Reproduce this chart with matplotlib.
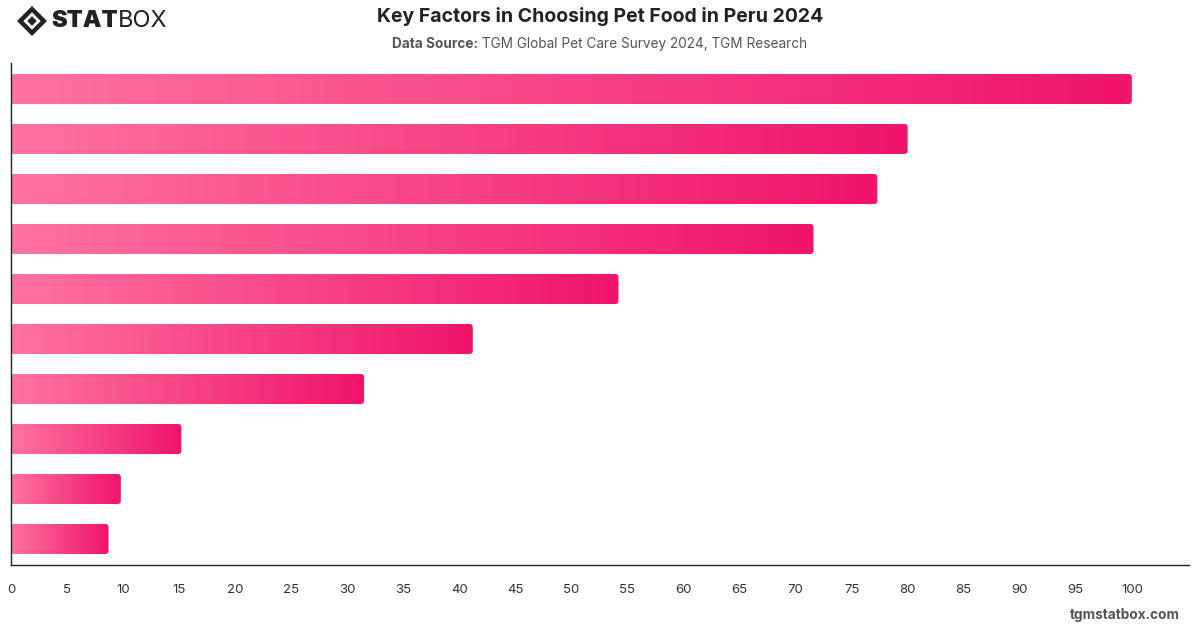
import matplotlib
matplotlib.use("Agg")
import matplotlib.pyplot as plt
import numpy as np
from matplotlib.colors import LinearSegmentedColormap
from matplotlib.patches import FancyBboxPatch, Polygon

plt.rcParams["font.family"] = ["Inter", "DejaVu Sans"]

# Values (top to bottom)
values = [100.0, 80.0, 77.3, 71.6, 54.2, 41.2, 31.5, 15.2, 9.8, 8.7]
x_ticks = list(range(0, 101, 5))

title = "Key Factors in Choosing Pet Food in Peru 2024"
source_bold = "Data Source:"
source_text = " TGM Global Pet Care Survey 2024, TGM Research"

LIGHT = "#FF72A1"
DEEP = "#F0146A"
grad = LinearSegmentedColormap.from_list("pinkgrad", [LIGHT, DEEP])

fig = plt.figure(figsize=(12, 6.28), dpi=100)
ax = fig.add_axes([11 / 1200, 1 - 565 / 628, (1189 - 11) / 1200, (565 - 63) / 628])

bar_h = 0.6
gradient = np.linspace(0, 1, 256).reshape(1, -1)
for i, v in enumerate(values):
    y0 = i - bar_h / 2
    im = ax.imshow(gradient, cmap=grad, aspect="auto",
                   extent=(0, v, y0 + bar_h, y0), interpolation="bilinear", zorder=2)
    # rounded clip so the bar ends look soft
    clip = FancyBboxPatch((0, y0), v, bar_h,
                          boxstyle="round,pad=0,rounding_size=0.3",
                          mutation_aspect=0.22, transform=ax.transData,
                          facecolor="none", edgecolor="none")
    ax.add_patch(clip)
    im.set_clip_path(clip)

ax.set_xlim(0, 105.1)
ax.set_ylim(len(values) - 1 + 0.52, -0.52)
ax.set_xticks(x_ticks)
ax.set_xticklabels([str(t) for t in x_ticks], fontsize=9.5, color="#333333")
ax.tick_params(axis="x", length=0, pad=14)
ax.set_yticks([])
for side in ("top", "right"):
    ax.spines[side].set_visible(False)
for side in ("left", "bottom"):
    ax.spines[side].set_color("#222222")
    ax.spines[side].set_linewidth(1.0)

# titles
fig.text(0.5, 1 - 17 / 628, title, ha="center", va="center",
         fontsize=14, fontweight="bold", color="#222222")
sub_y = 1 - 44 / 628
t1 = fig.text(0, sub_y, source_bold, ha="left", va="center",
              fontsize=9.8, fontweight="bold", color="#555555")
t2 = fig.text(0, sub_y, source_text, ha="left", va="center",
              fontsize=9.8, color="#555555")
fig.canvas.draw()
w1 = t1.get_window_extent().width
w2 = t2.get_window_extent().width
left = 600 - (w1 + w2) / 2
t1.set_position((left / 1200, sub_y))
t2.set_position(((left + w1) / 1200, sub_y))

# logo
cx, cy = 32 / 1200, 1 - 21 / 628
sx, sy = 15 / 1200, 15 / 628
for scale, col in ((1.0, "#222222"), (0.58, "white"), (0.32, "#222222")):
    fig.add_artist(Polygon([(cx - sx * scale, cy), (cx, cy + sy * scale),
                            (cx + sx * scale, cy), (cx, cy - sy * scale)],
                           closed=True, facecolor=col, edgecolor="none",
                           transform=fig.transFigure))
s1 = fig.text(51 / 1200, cy, "STAT", ha="left", va="center", fontsize=17,
              fontweight="black", color="#222222")
fig.canvas.draw()
sw = s1.get_window_extent().width
fig.text((51 + sw) / 1200, cy, "BOX", ha="left", va="center", fontsize=17,
         fontweight="normal", color="#222222")

fig.text(1180 / 1200, 1 - 615 / 628, "tgmstatbox.com", ha="right", va="center",
         fontsize=9.8, fontweight="bold", color="#555555")

fig.savefig("out.png", dpi=100)
